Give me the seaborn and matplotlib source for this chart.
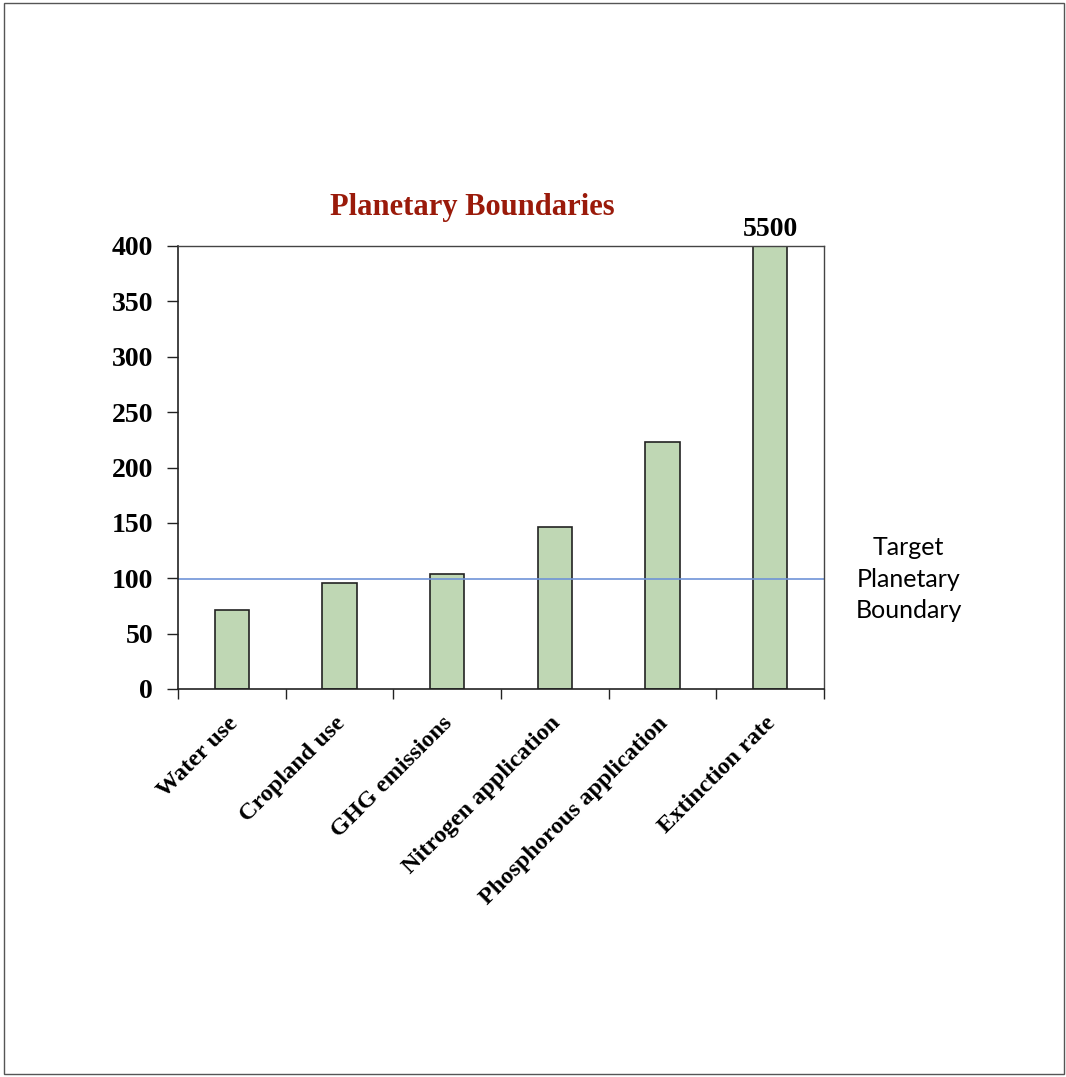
import matplotlib
matplotlib.use("Agg")
import matplotlib.pyplot as plt
import matplotlib.transforms as mtransforms
from matplotlib.patches import Rectangle
import seaborn as sns
import pandas as pd

# Data
categories = ["Water use", "Cropland use", "GHG emissions", "Nitrogen application",
              "Phosphorous application", "Extinction rate"]
values = [71, 96, 104, 146, 223, 5500]
target = 99
y_max = 400
y_ticks = [0, 50, 100, 150, 200, 250, 300, 350, 400]

sns.set_theme(style="white")
plt.rcParams["font.family"] = ["Liberation Serif", "DejaVu Serif"]
plt.rcParams["text.color"] = "black"
plt.rcParams["xtick.color"] = "black"
plt.rcParams["ytick.color"] = "black"

df = pd.DataFrame({"category": categories, "value": values})

fig = plt.figure(figsize=(10.66, 10.77), dpi=100)
ax = fig.add_axes([178 / 1066, 1 - 689 / 1077, (824 - 178) / 1066, (689 - 246) / 1077])

sns.barplot(data=df, x="category", y="value", ax=ax, width=0.32,
            color="#bfd7b4", saturation=1, edgecolor="#222222", linewidth=1.2)

ax.set_ylim(0, y_max)
ax.set_xlim(-0.5, len(categories) - 0.5)
ax.set_xlabel("")
ax.set_ylabel("")

# Target line
ax.axhline(target, color="#6f93d8", lw=1.2, zorder=1)

# Y axis
ax.set_yticks(y_ticks)
ax.set_yticklabels([str(t) for t in y_ticks], fontsize=20, fontweight="bold",
                   color="black")
ax.tick_params(axis="y", which="major", direction="out", length=8, width=1,
               color="#222222", pad=10, left=True)

# X axis: labels at bar centres, tick marks at category boundaries
ax.set_xticks(range(len(categories)))
ax.set_xticklabels(categories, rotation=45, ha="right", va="top",
                   rotation_mode="anchor", fontsize=17.5, fontweight="bold",
                   color="black")
ax.tick_params(axis="x", which="major", length=0, pad=17)
shift = mtransforms.ScaledTranslation(-5 / 100, 0, fig.dpi_scale_trans)
for lbl in ax.get_xticklabels():
    lbl.set_transform(lbl.get_transform() + shift)
ax.set_xticks([i - 0.5 for i in range(len(categories) + 1)], minor=True)
ax.tick_params(axis="x", which="minor", direction="out", length=7, width=1,
               color="#222222", bottom=True)

for side in ["left", "bottom"]:
    ax.spines[side].set_color("#222222")
    ax.spines[side].set_linewidth(1.2)
for side in ["top", "right"]:
    ax.spines[side].set_color("#444444")
    ax.spines[side].set_linewidth(1.0)

# Value of the clipped bar
ext_idx = len(categories) - 1
ax.annotate(str(values[ext_idx]), xy=(ext_idx, y_max), xytext=(0, 3),
            textcoords="offset points", ha="center", va="bottom",
            fontsize=20, fontweight="bold", annotation_clip=False)

# Target label at right
ax.annotate("Target\nPlanetary\nBoundary", xy=(1, target),
            xycoords=("axes fraction", "data"), xytext=(61, 0),
            textcoords="offset points", ha="center", va="center",
            fontsize=18, family=["Lato", "DejaVu Sans"],
            linespacing=1.45, annotation_clip=False)

# Title
fig.text(472 / 1066, 1 - 207 / 1077, "Planetary Boundaries", ha="center",
         va="center", fontsize=22, fontweight="bold", color="#9a1a0a")

# Outer frame
fig.patches.append(Rectangle((4 / 1066, 3 / 1077), 1060 / 1066, 1071 / 1077,
                             transform=fig.transFigure, fill=False,
                             edgecolor="#555555", lw=1.0))

fig.savefig("out.png", dpi=100)
